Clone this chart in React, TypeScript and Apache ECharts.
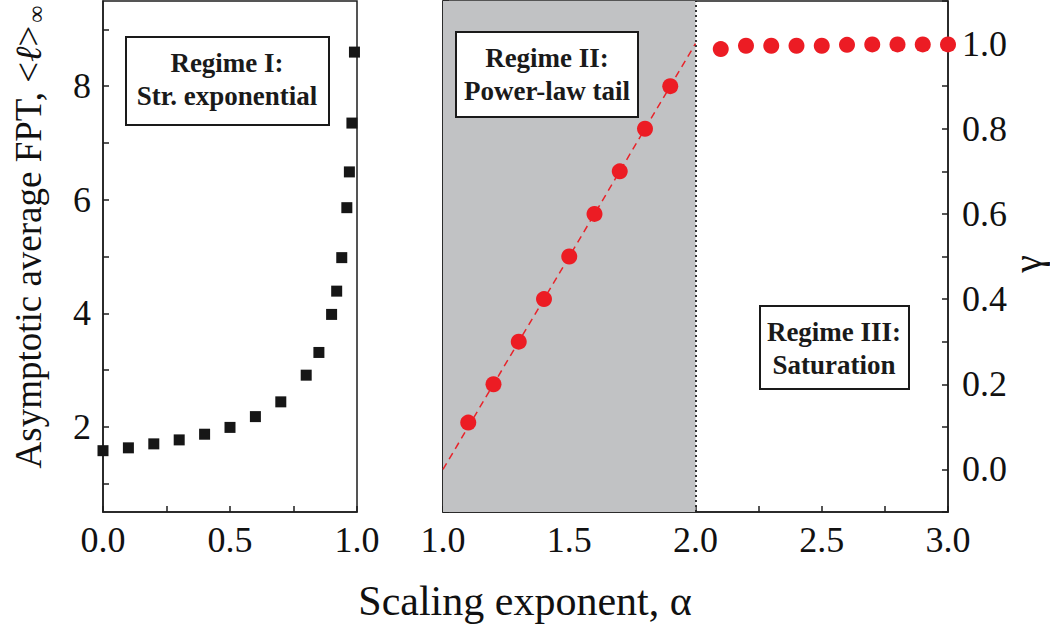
import React, { useEffect, useRef } from "react";
import * as echarts from "echarts";

// Regime I: asymptotic average FPT vs alpha (0..1)
const alphaLeft = [0, 0.1, 0.2, 0.3, 0.4, 0.5, 0.6, 0.7, 0.8, 0.85, 0.9, 0.92, 0.94, 0.96, 0.97, 0.98, 0.99];
const fptValues = [1.58, 1.63, 1.70, 1.77, 1.87, 1.99, 2.18, 2.44, 2.91, 3.31, 3.98, 4.39, 4.98, 5.86, 6.49, 7.35, 8.6];

// Regimes II and III: gamma vs alpha (1..3)
const alphaRight = [1.1, 1.2, 1.3, 1.4, 1.5, 1.6, 1.7, 1.8, 1.9, 2.1, 2.2, 2.3, 2.4, 2.5, 2.6, 2.7, 2.8, 2.9, 3.0];
const gammaValues = [0.11, 0.2, 0.3, 0.4, 0.5, 0.6, 0.7, 0.8, 0.9, 0.987, 0.995, 0.995, 0.995, 0.995, 0.997, 0.998, 0.998, 0.998, 0.998];

// Dashed guide gamma = alpha - 1
const guideAlpha = [1.0, 2.0];
const guideGamma = [0.0, 1.0];

const leftYTicks = [1, 2, 3, 4, 5, 6, 7, 8, 9];
const leftYLabels = [2, 4, 6, 8];

const FONT = "Liberation Serif, Times New Roman, Times, serif";
const AX = "#1e1e1e";

export default function App() {
  const ref = useRef<HTMLDivElement>(null);
  useEffect(() => {
    if (!ref.current) return;
    const chart = echarts.init(ref.current, undefined, { renderer: "svg" });

    const tickStyle = { show: true, inside: true, length: 6, lineStyle: { color: AX, width: 1.5 } };
    const lineStyle = { show: true, onZero: false, lineStyle: { color: AX, width: 1.5 } };
    const labelStyle = { color: "#111", fontFamily: FONT, fontSize: 36 };

    const halfFmt = (v: number) => {
      const r = Math.round(v * 4);
      return r % 2 === 0 ? (r / 4).toFixed(1) : "";
    };
    const gammaFmt = (v: number) => {
      const r = Math.round(v * 10);
      return r % 2 === 0 && r >= 0 && r <= 10 ? (r / 10).toFixed(1) : "";
    };

    const boxText = (cx: number, cy: number, text: string) => ({
      type: "text",
      x: cx,
      y: cy,
      style: {
        text,
        fontFamily: FONT,
        fontSize: 27,
        fontWeight: "bold",
        fill: "#1a1a1a",
        textAlign: "center",
        textVerticalAlign: "middle",
        lineHeight: 33,
      },
      z: 101,
    });
    const boxRect = (x: number, y: number, w: number, h: number) => ({
      type: "rect",
      shape: { x, y, width: w, height: h },
      style: { fill: "#ffffff", stroke: "#1a1a1a", lineWidth: 2 },
      z: 100,
    });

    chart.setOption({
      animation: false,
      backgroundColor: "#ffffff",
      grid: [
        { left: 103, right: 693, top: 1, bottom: 113, show: true, borderColor: AX, borderWidth: 1.5 },
        { left: 443, right: 102, top: 1, bottom: 113, show: true, borderColor: AX, borderWidth: 1.5 },
      ],
      xAxis: [
        {
          type: "value", gridIndex: 0, min: 0, max: 1, interval: 0.25,
          axisLine: lineStyle, axisTick: tickStyle, splitLine: { show: false },
          axisLabel: { ...labelStyle, margin: 10, formatter: halfFmt },
        },
        {
          type: "value", gridIndex: 1, min: 1, max: 3, interval: 0.25,
          axisLine: lineStyle, axisTick: tickStyle, splitLine: { show: false },
          axisLabel: { ...labelStyle, margin: 10, formatter: halfFmt },
        },
      ],
      yAxis: [
        {
          type: "value", gridIndex: 0, min: 0.5, max: 9.5, position: "left",
          axisLine: lineStyle,
          axisTick: { ...tickStyle, customValues: leftYTicks },
          splitLine: { show: false },
          axisLabel: { ...labelStyle, margin: 12, customValues: leftYLabels },
        },
        {
          type: "value", gridIndex: 1, min: -0.1, max: 1.1, interval: 0.1, position: "right",
          axisLine: lineStyle, axisTick: tickStyle, splitLine: { show: false },
          axisLabel: { ...labelStyle, margin: 14, formatter: gammaFmt },
        },
        {
          type: "value", gridIndex: 1, min: -0.1, max: 1.1, interval: 0.1, position: "left",
          axisLine: lineStyle, axisTick: tickStyle, splitLine: { show: false },
          axisLabel: { show: false },
        },
      ],
      series: [
        {
          type: "scatter",
          xAxisIndex: 0, yAxisIndex: 0,
          symbol: "rect",
          symbolSize: 11,
          itemStyle: { color: "#161616", opacity: 1 },
          data: alphaLeft.map((a, i) => [a, fptValues[i]]),
          z: 5,
        },
        {
          type: "line",
          xAxisIndex: 1, yAxisIndex: 1,
          showSymbol: false,
          lineStyle: { color: "#e8232a", width: 1.5, type: [7, 5] },
          data: guideAlpha.map((a, i) => [a, guideGamma[i]]),
          markArea: {
            silent: true,
            itemStyle: { color: "#c1c2c4", opacity: 1 },
            data: [[{ xAxis: 1 }, { xAxis: 2 }]],
          },
          z: 3,
        },
        {
          type: "scatter",
          xAxisIndex: 1, yAxisIndex: 1,
          symbol: "circle",
          symbolSize: 16,
          itemStyle: { color: "#ec1c24", opacity: 1 },
          data: alphaRight.map((a, i) => [a, gammaValues[i]]),
          markLine: {
            silent: true,
            symbol: "none",
            label: { show: false },
            lineStyle: { color: "#222", width: 1.8, type: [2, 3], opacity: 1 },
            data: [{ xAxis: 2 }],
          },
          z: 6,
        },
      ],
      graphic: [
        boxRect(126, 37, 203, 88),
        boxText(227, 79, "Regime I:\nStr. exponential"),
        boxRect(456, 32, 182, 85),
        boxText(547, 74, "Regime II:\nPower-law tail"),
        boxRect(760, 306, 149, 83),
        boxText(834, 348, "Regime III:\nSaturation"),
        {
          type: "text",
          x: 525,
          y: 601,
          style: {
            text: "Scaling exponent, α",
            fontFamily: FONT,
            fontSize: 42,
            fill: "#111",
            textAlign: "center",
            textVerticalAlign: "middle",
          },
        },
        {
          type: "text",
          x: 28,
          y: 237,
          rotation: Math.PI / 2,
          style: {
            text: "{n|Asymptotic average FPT, <}{i|ℓ}{n|>}{s|∞}",
            textAlign: "center",
            textVerticalAlign: "middle",
            rich: {
              n: { fontFamily: FONT, fontSize: 37, fill: "#111" },
              i: { fontFamily: FONT, fontSize: 37, fontStyle: "italic", fill: "#111" },
              s: { fontFamily: FONT, fontSize: 24, fill: "#111", padding: [16, 0, 0, 3] },
            },
          },
        },
        {
          type: "text",
          x: 1027,
          y: 264,
          rotation: Math.PI / 2,
          style: {
            text: "γ",
            fontFamily: FONT,
            fontSize: 40,
            fill: "#111",
            textAlign: "center",
            textVerticalAlign: "middle",
          },
        },
      ],
    });
    return () => chart.dispose();
  }, []);
  return (
    <div
      ref={ref}
      style={{ position: "absolute", left: 0, top: 0, width: 1050, height: 625 }}
    />
  );
}
